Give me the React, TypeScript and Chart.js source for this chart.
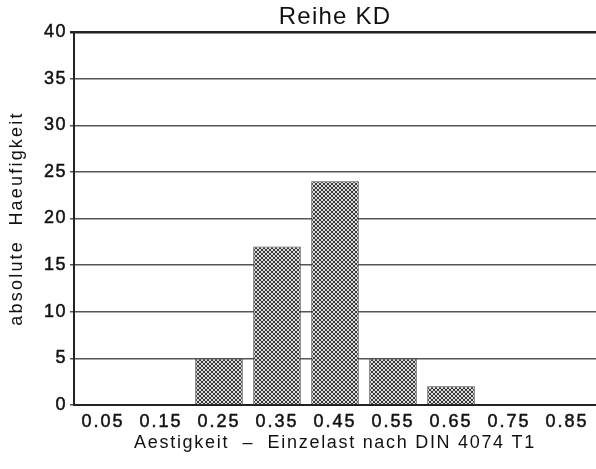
import React, { useEffect, useRef } from "react";
import { Chart, registerables } from "chart.js";

Chart.register(...registerables);

const categories = ["0.05", "0.15", "0.25", "0.35", "0.45", "0.55", "0.65", "0.75", "0.85"];
const counts = [0, 0, 5, 17, 24, 5, 2, 0, 0];
const chartTitle = "Reihe KD";
const xTitle = "Aestigkeit  –  Einzelast nach DIN 4074 T1";
const yTitle = "absolute  Haeufigkeit";

function makePattern(): CanvasPattern | string {
  const c = document.createElement("canvas");
  c.width = 4;
  c.height = 4;
  const g = c.getContext("2d");
  if (!g) return "#888";
  g.fillStyle = "#dcdcdc";
  g.fillRect(0, 0, 4, 4);
  g.fillStyle = "#383838";
  const pts = [[0, 0], [1, 1], [2, 2], [3, 3], [3, 0], [2, 1], [1, 2], [0, 3]];
  pts.forEach(([x, y]) => g.fillRect(x, y, 1, 1));
  const p = g.createPattern(c, "repeat");
  return p || "#888";
}

const titleSpacing: Record<string, string> = { x: "1.7px", y: "2.2px" };
const labelSpacing: Record<string, string> = { x: "2px", y: "1.5px" };

function wrap(chart: any, fn: () => void, ls: string) {
  const c = chart.ctx as any;
  const prev = c.letterSpacing;
  c.letterSpacing = ls;
  fn();
  c.letterSpacing = prev;
}

const spacing = {
  id: "spacing",
  beforeDraw(chart: any) {
    (chart.ctx as any).letterSpacing = "1.2px";
    Object.keys(chart.scales).forEach((id) => {
      const sc = chart.scales[id];
      if (sc.__lsPatched) return;
      sc.__lsPatched = true;
      const t = sc.drawTitle.bind(sc);
      const l = sc.drawLabels.bind(sc);
      sc.drawTitle = () => wrap(chart, t, titleSpacing[id] || "1px");
      sc.drawLabels = (a: any) => wrap(chart, () => l(a), labelSpacing[id] || "1px");
    });
  },
};

export default function App() {
  const ref = useRef<HTMLCanvasElement | null>(null);
  useEffect(() => {
    document.body.style.margin = "0";
    if (!ref.current) return;
    const font = "'Liberation Sans', Arial, sans-serif";
    const chart = new Chart(ref.current, {
      type: "bar",
      data: {
        labels: categories,
        datasets: [
          {
            data: counts,
            backgroundColor: makePattern() as any,
            borderColor: "#444",
            borderWidth: 1,
            categoryPercentage: 0.82,
            barPercentage: 1,
          },
        ],
      },
      plugins: [spacing],
      options: {
        animation: false,
        responsive: false,
        maintainAspectRatio: false,
        layout: { padding: { left: 0, right: 0, top: 0, bottom: 0 } },
        plugins: {
          legend: { display: false },
          tooltip: { enabled: false },
          title: {
            display: true,
            text: chartTitle,
            fullSize: false,
            color: "#111",
            font: { family: font, size: 24, weight: "normal", lineHeight: 1 },
            padding: { top: 5, bottom: 3 },
          },
        },
        scales: {
          x: {
            grid: { display: false, drawTicks: false },
            border: { display: true, color: "#222", width: 2 },
            ticks: {
              color: "#111",
              font: { family: font, size: 18 },
              padding: 6,
              maxRotation: 0,
              textStrokeColor: "#111",
              textStrokeWidth: 0.5,
            },
            title: {
              display: true,
              text: xTitle,
              color: "#111",
              font: { family: font, size: 18 },
              padding: { top: 0, bottom: 15 },
            },
            afterFit(s: any) {
              s.height = 64;
            },
          },
          y: {
            min: 0,
            max: 40,
            ticks: {
              stepSize: 5,
              color: "#111",
              font: { family: font, size: 18 },
              padding: 3,
              textStrokeColor: "#111",
              textStrokeWidth: 0.5,
            },
            grid: {
              color: (ctx: any) => (ctx.tick && ctx.tick.value === 40 ? "#222" : "#555"),
              lineWidth: (ctx: any) => (ctx.tick && ctx.tick.value === 40 ? 2.5 : 1.5),
              tickLength: 4,
            },
            border: { display: true, color: "#222", width: 2 },
            title: {
              display: true,
              text: yTitle,
              color: "#111",
              font: { family: font, size: 18 },
              padding: { top: 6, bottom: 0 },
            },
            afterFit(s: any) {
              s.width = 74;
            },
          },
        },
      },
    });
    return () => chart.destroy();
  }, []);
  return (
    <div style={{ position: "absolute", left: 0, top: 0, width: 596, height: 469 }}>
      <canvas ref={ref} width={596} height={469} style={{ width: 596, height: 469 }} />
    </div>
  );
}
